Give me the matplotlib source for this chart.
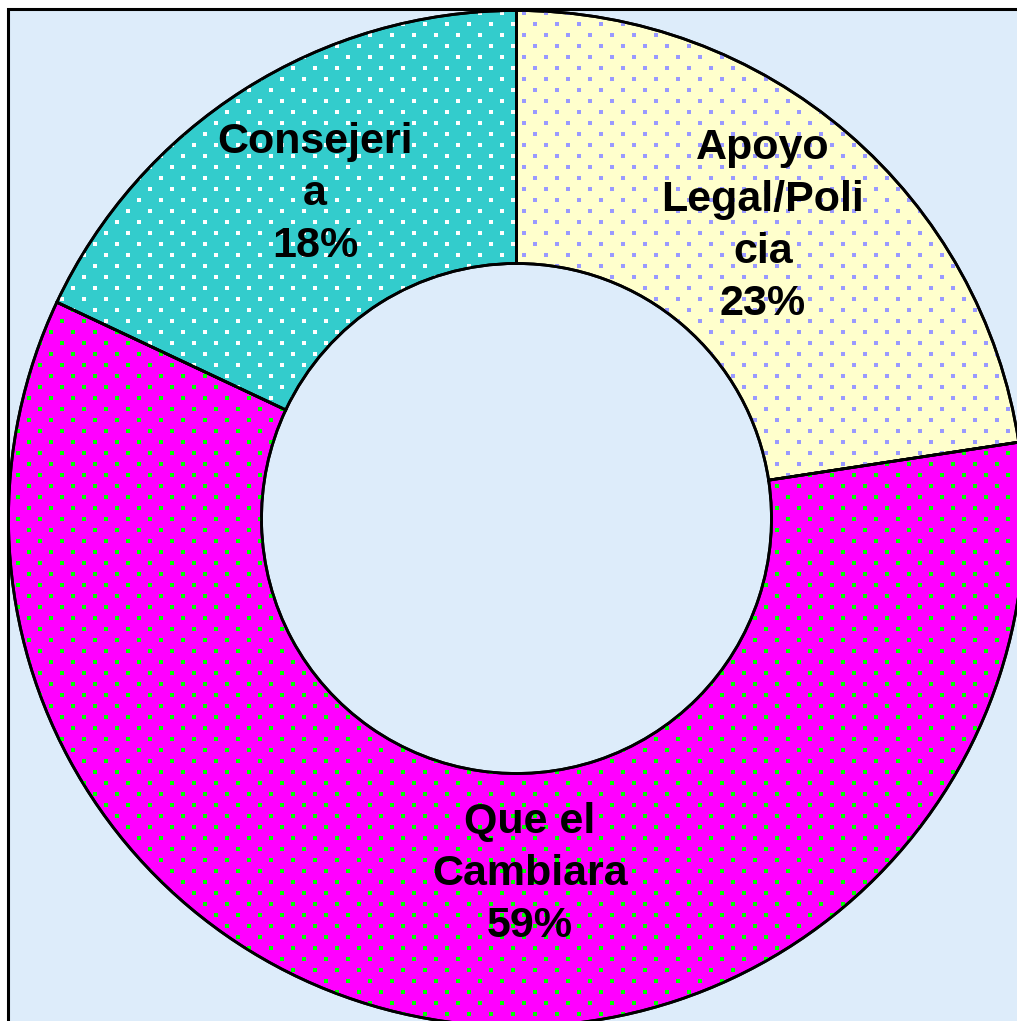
import numpy as np
import matplotlib
matplotlib.use("Agg")
import matplotlib.pyplot as plt
from matplotlib.patches import Wedge, Rectangle

# Data (shares, %)
categories = ["Apoyo\nLegal/Poli\ncia", "Que el\nCambiara", "Consejeri\na"]
percent = [22.6, 59.4, 18.0]

# Colours: slice fill and the dot colour of its pattern
fill_colors = ["#FFFFCC", "#FF00FF", "#33CCCC"]
dot_colors = ["#9999FF", "#00FF00", "#FFFFFF"]

# Layout, in pixels of the 1017x1021 picture
W, H = 1017, 1021
center = (516.5, 518.5)
r_out = 508
r_in = 255
label_pos = [(763, 226), (530, 874), (315, 194)]

fig = plt.figure(figsize=(W / 100, H / 100), dpi=100)
fig.patch.set_facecolor("white")
ax = fig.add_axes([0, 0, 1, 1])
ax.set_xlim(0, W)
ax.set_ylim(H, 0)
ax.set_aspect("equal")
ax.axis("off")

# Plot area background and frame
ax.add_patch(Rectangle((8, 9), W + 20, H + 20, facecolor="#DDECFA",
                       edgecolor="black", linewidth=2.2, zorder=0))

# Dot grid used as the fill pattern of every slice
rows = np.arange(2, H + 12, 11)
px, py = [], []
for i, y in enumerate(rows):
    xs = np.arange(7 if i % 2 == 0 else 18, W + 22, 22)
    px.extend(xs)
    py.extend([y] * len(xs))
px, py = np.array(px), np.array(py)

# Slices start at 12 o'clock and go clockwise (y axis is flipped)
start = -90.0
for val, fc, dc in zip(percent, fill_colors, dot_colors):
    end = start + val / sum(percent) * 360
    w = Wedge(center, r_out, start, end, width=r_out - r_in,
              facecolor=fc, edgecolor="black", linewidth=2, zorder=2)
    ax.add_patch(w)
    dots = ax.scatter(px, py, s=6.5, marker="s", color=dc, linewidths=0,
                      antialiased=False, zorder=3)
    dots.set_clip_path(w)
    # outline again on top of the dots
    ax.add_patch(Wedge(center, r_out, start, end, width=r_out - r_in,
                       facecolor="none", edgecolor="black", linewidth=2, zorder=4))
    start = end

# Labels with the category name and its percentage
for name, val, (x, y) in zip(categories, percent, label_pos):
    ax.text(x, y, f"{name}\n{val:.0f}%", ha="center", va="center",
            fontsize=31, fontweight="bold", family="Liberation Sans",
            linespacing=1.38, zorder=5)

fig.savefig("out.png", dpi=100)
